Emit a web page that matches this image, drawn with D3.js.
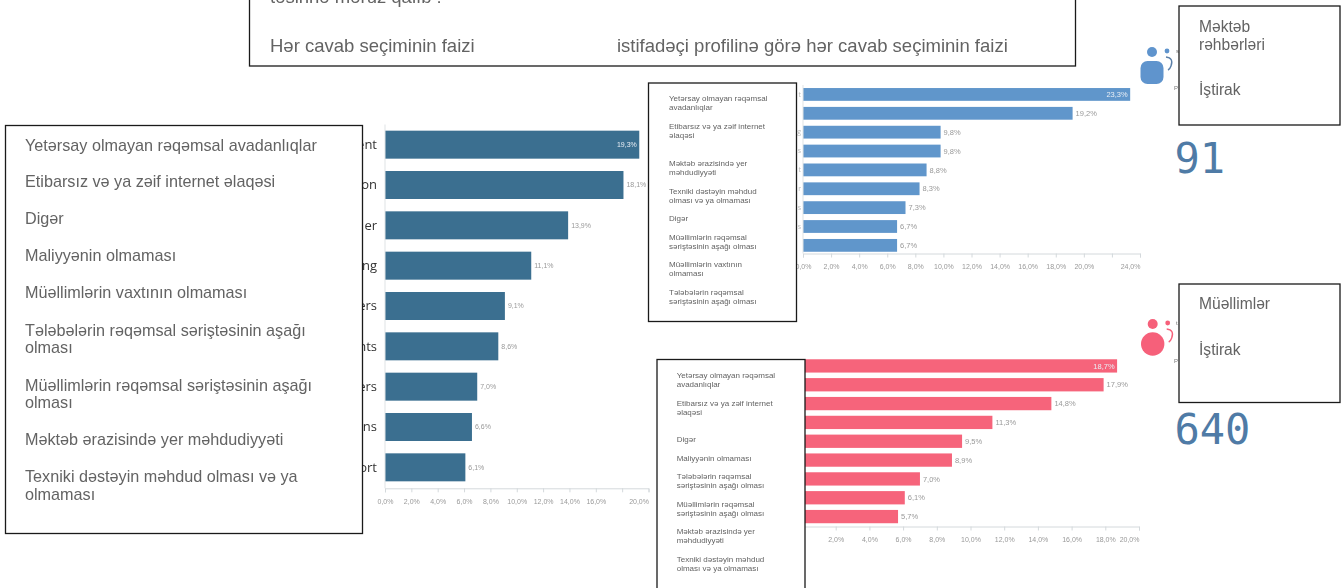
<!DOCTYPE html>
<html><head><meta charset="utf-8">
<script src="https://cdn.jsdelivr.net/npm/d3@7"></script>
<style>
html,body{margin:0;padding:0;background:#fff;overflow:hidden}
svg{display:block;font-family:"Liberation Sans",Arial,sans-serif}
.soft{filter:blur(.4px)}
.gray{filter:blur(.2px)}
</style></head><body>
<svg id="c" width="1342" height="588"></svg>
<script>
// Data
const leftTails = ["ent","ion","er","ng","ers","nts","ers","ons","ort"];
const leftValues = [19.3,18.1,13.9,11.1,9.1,8.6,7.0,6.6,6.1];
const leftTickLabels = [0,2,4,6,8,10,12,14,16,20];
const leafItems = [
 ["Yetərsay olmayan rəqəmsal avadanlıqlar"],["Etibarsız və ya zəif internet əlaqəsi"],["Digər"],["Maliyyənin olmaması"],
 ["Müəllimlərin vaxtının olmaması"],["Tələbələrin rəqəmsal səriştəsinin aşağı","olması"],
 ["Müəllimlərin rəqəmsal səriştəsinin aşağı","olması"],["Məktəb ərazisində yer məhdudiyyəti"],["Texniki dəstəyin məhdud olması və ya","olmaması"]];

const topTails = ["t","","g","s","t","r","s","s",""];
const topValues = [23.3,19.2,9.8,9.8,8.8,8.3,7.3,6.7,6.7];
const topTickLabels = [0,2,4,6,8,10,12,14,16,18,20,24];
const topItems = [
 ["Yetərsay olmayan rəqəmsal","avadanlıqlar"],["Etibarsız və ya zəif internet","əlaqəsi"],["Məktəb ərazisində yer","məhdudiyyəti"],
 ["Texniki dəstəyin məhdud","olması və ya olmaması"],["Digər"],["Müəllimlərin rəqəmsal","səriştəsinin aşağı olması"],
 ["Müəllimlərin vaxtının","olmaması"],["Tələbələrin rəqəmsal","səriştəsinin aşağı olması"]];

const bottomValues = [18.7,17.9,14.8,11.3,9.5,8.9,7.0,6.1,5.7];
const bottomTickLabels = [2,4,6,8,10,12,14,16,18,20];
const bottomItems = [
 ["Yetərsay olmayan rəqəmsal","avadanlıqlar"],["Etibarsız və ya zəif internet","əlaqəsi"],["Digər"],["Maliyyənin olmaması"],
 ["Tələbələrin rəqəmsal","səriştəsinin aşağı olması"],["Müəllimlərin rəqəmsal","səriştəsinin aşağı olması"],
 ["Məktəb ərazisində yer","məhdudiyyəti"],["Texniki dəstəyin məhdud","olması və ya olmaması"]];

const headerLines = ["təsirinə məruz qalıb :"];
const headerColumns = ["Hər cavab seçiminin faizi","istifadəçi profilinə görə hər cavab seçiminin faizi"];
const leaderCard = {title:["Məktəb","rəhbərləri"],sub:"İştirak",count:"91"};
const teacherCard = {title:["Müəllimlər"],sub:"İştirak",count:"640"};

const svg = d3.select("#c");
const loc = d3.formatLocale({decimal:",",thousands:".",grouping:[3],currency:["",""]});
const pct = v => loc.format(".1f")(v)+"%";
const TXT = "#636363";

function chart(o){
  const x = d3.scaleLinear().domain([0,o.max]).range([o.x0,o.x1]);
  const y = d3.scaleBand().domain(d3.range(o.values.length)).range([o.top,o.bottom]).paddingInner(o.pad).paddingOuter(o.pad/2);
  const g = svg.append("g").attr("class","soft");
  g.selectAll("rect").data(o.values).join("rect")
    .attr("x",x(0)).attr("y",(d,i)=>y(i)).attr("width",d=>x(d)-x(0)).attr("height",y.bandwidth()).attr("fill",o.color);
  g.selectAll("text.v").data(o.values).join("text").attr("class","v")
    .attr("x",(d,i)=>i==0?x(d)-2.5:x(d)+3).attr("y",(d,i)=>y(i)+y.bandwidth()/2).attr("dy",".35em")
    .attr("text-anchor",(d,i)=>i==0?"end":"start").attr("font-size",o.vsize)
    .attr("fill",(d,i)=>i==0?"#e8eef5":"#999").text(pct);
  const ticks = d3.range(0,o.max+.001,2);
  const ax = g.append("g").attr("transform",`translate(0,${o.axisY})`)
    .call(d3.axisBottom(x).tickValues(ticks).tickSize(4).tickPadding(o.tp).tickFormat(d=>o.labels.includes(d)?pct(d):""));
  ax.selectAll("path,line").attr("stroke","#d4d9dc");
  ax.selectAll("text").attr("font-size",o.tsize).attr("fill","#999").attr("font-family","inherit")
    .filter(d=>d===o.max).attr("text-anchor","end").attr("x",0);
  if(o.tails){
    const ay = g.append("g").attr("transform",`translate(${x(0)},0)`)
      .call(d3.axisLeft(y).tickSize(0).tickPadding(o.tailPad).tickFormat(i=>o.tails[i]));
    ay.select("path").attr("stroke","#dfe3e5").attr("d",`M0,${o.top}V${o.axisY}`);
    ay.selectAll("text").attr("font-size",o.tailSize).attr("fill",o.tailFill).attr("font-family",'"Open Sans",sans-serif');
  }
}
chart({values:leftValues,tails:leftTails,labels:leftTickLabels,max:20,x0:385,x1:648.5,top:124.5,bottom:487.5,pad:.306,color:"#3b6f90",
  axisY:488.3,tp:7,vsize:7,tsize:7,tailPad:8,tailSize:13,tailFill:"#333"});
chart({values:topValues,tails:topTails,labels:topTickLabels,max:24,x0:803,x1:1140,top:85,bottom:254.8,pad:.322,color:"#6096cb",
  axisY:253.5,tp:7,vsize:7.5,tsize:7,tailPad:2,tailSize:7,tailFill:"#bbb"});
chart({values:bottomValues,labels:bottomTickLabels,max:20,x0:802,x1:1139,top:356.5,bottom:526,pad:.294,color:"#f6647b",
  axisY:526.5,tp:7,vsize:7.5,tsize:7,});

function box(x,y,w,h){
  svg.append("rect").attr("x",x).attr("y",y).attr("width",w).attr("height",h).attr("fill","#fff").attr("stroke","#1a1a1a").attr("stroke-width",1.3);
}
function lines(x,items,ys,size,lh){
  const g = svg.append("g").attr("class","gray");
  items.forEach((ls,i)=>ls.forEach((t,j)=>{
    g.append("text").attr("x",x).attr("y",ys[i]+j*lh).attr("dy",".35em").attr("font-size",size).attr("fill",TXT).text(t);
  }));
}
// header
box(249.5,-5,826,71);
const hg = svg.append("g").attr("class","gray");
headerLines.forEach(t=>hg.append("text").attr("x",270).attr("y",3).attr("font-size",18.5).attr("fill",TXT).text(t));
hg.append("text").attr("x",270).attr("y",46).attr("dy",".35em").attr("font-size",18.5).attr("fill",TXT).text(headerColumns[0]);
hg.append("text").attr("x",617).attr("y",46).attr("dy",".35em").attr("font-size",18.5).attr("fill",TXT).text(headerColumns[1]);
// category boxes
box(5.5,125.5,357,408);
lines(25,leafItems,[145,181.7,218,255.7,292.7,330,385,439,476.7],16.2,17.8);
box(648.5,83,148,238.5);
lines(669,topItems,[98.3,126,163.3,191,218.3,236.7,264,292],8,9.2);
box(657,359.5,148,240);
lines(676.7,bottomItems,[375,403.3,439,458,476,504,531,559],8,9.2);

// icons
function icon(cx,cy,color,round){
  const g = svg.append("g").attr("class","soft").attr("fill",color);
  g.append("circle").attr("cx",cx).attr("cy",cy).attr("r",5);
  g.append("circle").attr("cx",cx+15).attr("cy",cy-1).attr("r",2.4);
  if(round) g.append("circle").attr("cx",cx).attr("cy",cy+20).attr("r",11.7);
  else g.append("rect").attr("x",cx-11.5).attr("y",cy+9).attr("width",23).attr("height",23).attr("rx",7);
  g.append("path").attr("fill","none").attr("stroke",round?color:"#5a7fa8").attr("stroke-width",1.4)
    .attr("d",`M${cx+14},${cy+5} Q${cx+22},${cy+6} ${cx+19},${cy+14} Q${cx+18},${cy+17} ${cx+16},${cy+18}`);
}
icon(1152,52,"#5f94cd",false);
icon(1152.7,324,"#f6607a",true);
// fragments of text showing next to the cards
const fg = svg.append("g").attr("class","soft");
[[1176,53,"s"],[1174,90,"P"],[1176,325,"t"],[1174,363,"P"]].forEach(d=>
  fg.append("text").attr("x",d[0]).attr("y",d[1]).attr("font-size",6).attr("fill","#777").text(d[2]));
// cards
box(1179,6,161,119);
lines(1199,[leaderCard.title],[26.7],15.6,18.3);
lines(1199,[[leaderCard.sub]],[90],15.6,18);
box(1179,284,161,118.5);
lines(1199,[teacherCard.title],[304],15.6,18);
lines(1199,[[teacherCard.sub]],[349.3],15.6,18);
// counts
[[leaderCard.count,173],[teacherCard.count,443.5]].forEach(d=>
  svg.append("text").attr("x",1174.5).attr("y",d[1]).attr("font-family",'"DejaVu Sans Mono",monospace').attr("font-size",42).attr("fill","#4f7ba6").text(d[0]));
</script></body></html>
